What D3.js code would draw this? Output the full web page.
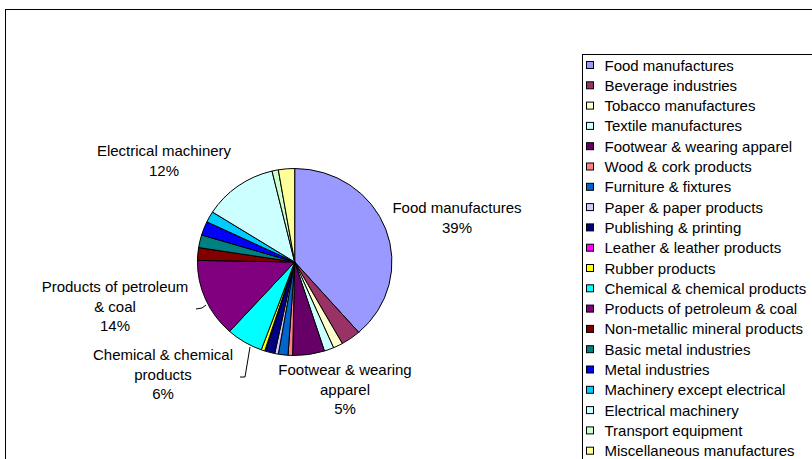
<!DOCTYPE html>
<html>
<head>
<meta charset="utf-8">
<script src="https://cdn.jsdelivr.net/npm/d3@7"></script>
<style>
  html, body { margin: 0; padding: 0; background: #fff; }
  svg { display: block; font-family: "Liberation Sans", Arial, sans-serif; }
</style>
</head>
<body>
<svg id="chart" width="812" height="459"></svg>
<script>
// Industry categories, in the order they are drawn (clockwise from 12 o'clock)
const categories = [
  "Food manufactures", "Beverage industries", "Tobacco manufactures",
  "Textile manufactures", "Footwear & wearing apparel", "Wood & cork products",
  "Furniture & fixtures", "Paper & paper products", "Publishing & printing",
  "Leather & leather products", "Rubber products", "Chemical & chemical products",
  "Products of petroleum & coal", "Non-metallic mineral products",
  "Basic metal industries", "Metal industries", "Machinery except electrical",
  "Electrical machinery", "Transport equipment", "Miscellaneous manufactures"
];

// Share of each industry (percent)
const shares = [
  38.6, 3.3, 1.6, 1.6, 5.3, 0.75, 1.6, 0.6, 1.6, 0.1,
  0.6, 6.1, 13.6, 2.2, 2.2, 2.4, 1.9, 12.3, 1.05, 2.7
];

const colors = [
  "#9999FF", "#993366", "#FFFFCC", "#CCFFFF", "#660066", "#FF8080",
  "#0066CC", "#CCCCFF", "#000080", "#FF00FF", "#FFFF00", "#00FFFF",
  "#800080", "#800000", "#008080", "#0000FF", "#00CCFF", "#CCFFFF",
  "#CCFFCC", "#FFFF99"
];

// Slices that carry a data label, with the label's text lines
const labelled = {
  "Food manufactures": { lines: ["Food manufactures"], x: 457, y: 213 },
  "Electrical machinery": { lines: ["Electrical machinery"], x: 164, y: 156 },
  "Products of petroleum & coal": { lines: ["Products of petroleum", "& coal"], x: 115, y: 292 },
  "Chemical & chemical products": { lines: ["Chemical & chemical", "products"], x: 163, y: 360 },
  "Footwear & wearing apparel": { lines: ["Footwear & wearing", "apparel"], x: 345, y: 375 }
};

const svg = d3.select("#chart");
const W = 812, H = 459;

// chart area frame
svg.append("rect")
  .attr("x", 5.5).attr("y", 9.5)
  .attr("width", W + 10).attr("height", H + 10)
  .attr("fill", "#fff").attr("stroke", "#000").attr("stroke-width", 1);

const cx = 294.7, cy = 262, R = 93.5, sx = 1.04;
const total = d3.sum(shares);
const data = categories.map((c, i) => ({ name: c, value: shares[i], color: colors[i] }));

const pie = d3.pie().value(d => d.value).sort(null);
const arc = d3.arc().innerRadius(0).outerRadius(R);
const arcs = pie(data);

const g = svg.append("g").attr("transform", `translate(${cx},${cy}) scale(${sx},1)`);
g.selectAll("path.slice")
  .data(arcs)
  .join("path")
  .attr("class", "slice")
  .attr("d", arc)
  .attr("fill", d => d.data.color)
  .attr("stroke", "#000")
  .attr("stroke-width", 1)
  .attr("vector-effect", "non-scaling-stroke")
  .attr("stroke-linejoin", "round");

// data labels: name plus rounded percentage
const fmtPct = v => Math.round(v / total * 100) + "%";
arcs.forEach(a => {
  const lab = labelled[a.data.name];
  if (!lab) return;
  const lines = lab.lines.concat([fmtPct(a.data.value)]);
  const t = svg.append("text")
    .attr("text-anchor", "middle")
    .attr("font-size", 15)
    .attr("fill", "#000");
  lines.forEach((s, i) => {
    t.append("tspan").attr("x", lab.x).attr("y", lab.y + i * 19.7).text(s);
  });
});

// leader lines for the labels set away from their slices
const leader = (pts) => svg.append("path")
  .attr("d", d3.line()(pts))
  .attr("fill", "none").attr("stroke", "#000").attr("stroke-width", 1);
leader([[196, 309], [202, 308], [206, 305]]);
leader([[240, 377], [245, 377], [250, 347]]);

// legend
const lx = 582.5, ly = 54.5, rowH = 20.3;
svg.append("rect")
  .attr("x", lx).attr("y", ly)
  .attr("width", 260).attr("height", 430)
  .attr("fill", "#fff").attr("stroke", "#000").attr("stroke-width", 1);

const items = svg.append("g").selectAll("g")
  .data(data)
  .join("g")
  .attr("transform", (d, i) => `translate(${lx + 4},${ly + 10.5 + i * rowH})`);
items.append("rect")
  .attr("x", 0).attr("y", -3.5)
  .attr("width", 7).attr("height", 7)
  .attr("fill", d => d.color)
  .attr("stroke", "#000").attr("stroke-width", 1);
items.append("text")
  .attr("x", 18).attr("y", 5.5)
  .attr("font-size", 15)
  .attr("fill", "#000")
  .text(d => d.name);
</script>
</body>
</html>
